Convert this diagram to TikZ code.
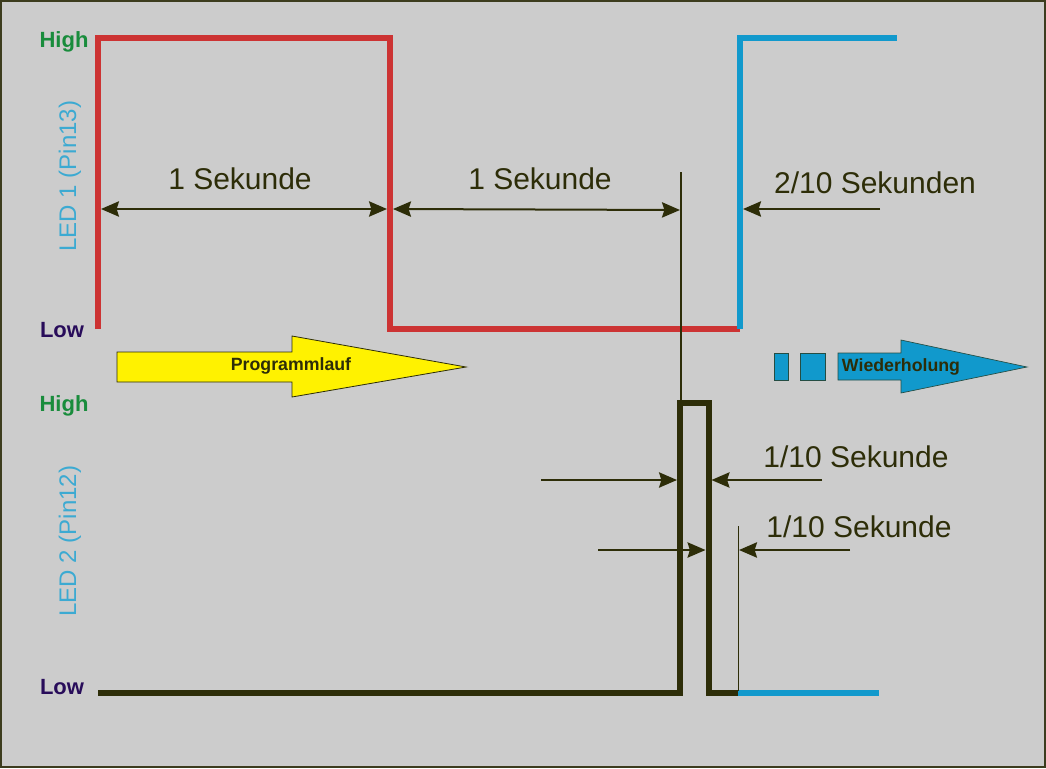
\documentclass[tikz,border=0pt]{standalone}
\usepackage{fontspec}
\setmainfont{Liberation Sans}
\usetikzlibrary{arrows.meta}
\definecolor{bg}{RGB}{204,204,204}
\definecolor{frame}{RGB}{60,60,30}
\definecolor{olive}{RGB}{45,45,8}
\definecolor{sigred}{RGB}{204,51,51}
\definecolor{sigblue}{RGB}{17,153,204}
\definecolor{hicol}{RGB}{25,140,60}
\definecolor{locol}{RGB}{40,12,90}
\definecolor{ledcol}{RGB}{60,170,210}
\tikzset{
  sig/.style={line width=4.5pt, line join=miter, line cap=butt},
  tipA/.tip={Stealth[length=13.5pt,width=11.5pt,inset=1.8pt]},
  dimarrow/.style={olive, line width=1.5pt, -tipA},
  dimboth/.style={olive, line width=1.5pt, tipA-tipA},
  dimline/.style={olive, line width=1.1pt},
  big/.style={inner sep=0pt, text=olive, font=\fontsize{22.5pt}{24pt}\selectfont},
  hilab/.style={inner sep=0pt, text=hicol, font=\fontsize{16.5pt}{18pt}\selectfont\bfseries},
  lolab/.style={inner sep=0pt, text=locol, font=\fontsize{16.5pt}{18pt}\selectfont\bfseries},
  ledlab/.style={inner sep=0pt, text=ledcol, rotate=90, font=\fontsize{18pt}{20pt}\selectfont},
  arrlab/.style={inner sep=0pt, text=olive, font=\fontsize{13.3pt}{15pt}\selectfont\bfseries},
}
\begin{document}
\begin{tikzpicture}[x=0.75pt,y=-0.75pt]
\useasboundingbox (0,0) rectangle (1046,768);
\fill[bg] (0,0) rectangle (1046,768);
\draw[frame, line width=1.5pt] (1,1) rectangle (1045,767);

% coordinates of LED 1
\coordinate (r0) at (98,329);
\coordinate (r1) at (98,38);
\coordinate (r2) at (390,38);
\coordinate (r3) at (390,329);
\coordinate (r4) at (740,329);
\coordinate (b1) at (740,38);
\coordinate (b2) at (897,38);
% LED 2
\coordinate (k0) at (98,693);
\coordinate (k1) at (680,693);
\coordinate (k2) at (680,403);
\coordinate (k3) at (708.5,403);
\coordinate (k4) at (708.5,693);
\coordinate (k5) at (738,693);
\coordinate (k6) at (879,693);

% signal lines
\draw[sig, sigred] (r0) -- (r1) -- (r2) -- (r3) -- (r4);
\draw[sig, sigblue] (r4) -- (b1) -- (b2);
\draw[sig, olive] (k0) -- (k1) -- (k2) -- (k3) -- (k4) -- (k5);
\draw[sig, sigblue] (k5) -- (k6);

% thin guide lines
\coordinate (g1t) at (681,172);
\coordinate (g1b) at (681,401);
\coordinate (g2t) at (738.5,526);
\coordinate (g2b) at (738.5,691);
\draw[dimline] (g1t) -- (g1b);
\draw[dimline] (g2t) -- (g2b);

% dimension arrows top
\coordinate (d1a) at (101,209);
\coordinate (d1b) at (387,209);
\coordinate (d2a) at (393,209);
\coordinate (d2b) at (680,210);
\coordinate (d3s) at (880,209);
\coordinate (d3e) at (743,209);
\draw[dimboth] (d1a) -- (d1b);
\draw[dimboth] (d2a) -- (d2b);
\draw[dimarrow] (d3s) -- (d3e);

% dimension arrows bottom
\coordinate (e1s) at (541,480);
\coordinate (e1e) at (677,480);
\coordinate (e2s) at (822,480);
\coordinate (e2e) at (711.5,480);
\coordinate (e3s) at (598,550);
\coordinate (e3e) at (705.5,550);
\coordinate (e4s) at (850,550);
\coordinate (e4e) at (739,550);
\draw[dimarrow] (e1s) -- (e1e);
\draw[dimarrow] (e2s) -- (e2e);
\draw[dimarrow] (e3s) -- (e3e);
\draw[dimarrow] (e4s) -- (e4e);

% texts
\node[big] (t1) at (240,179) {1 Sekunde};
\node[big] (t2) at (540,179) {1 Sekunde};
\node[big] (t3) at (875,183) {2/10 Sekunden};
\node[big] (t4) at (856,457) {1/10 Sekunde};
\node[big] (t5) at (859,527) {1/10 Sekunde};

\node[hilab] (h1) at (64,42) {High};
\node[lolab] (l1) at (62,330) {Low};
\node[hilab] (h2) at (64,406) {High};
\node[lolab] (l2) at (62,687) {Low};
\node[ledlab] (led1) at (70,176) {LED 1 (Pin13)};
\node[ledlab] (led2) at (70,541) {LED 2 (Pin12)};

% yellow arrow
\draw[fill=yellow, draw=olive, line width=0.6pt]
  (117,352) -- (292,352) -- (292,336) -- (466,367) -- (292,397) -- (292,382) -- (117,382) -- cycle;
\node[arrlab] (prog) at (291,366) {Programmlauf};

% blue arrow
\draw[fill=sigblue, draw=olive!70!sigblue, line width=0.5pt] (774,353) rectangle (788,380);
\draw[fill=sigblue, draw=olive!70!sigblue, line width=0.5pt] (800,353) rectangle (825,380);
\draw[fill=sigblue, draw=olive!70!sigblue, line width=0.5pt]
  (838,353) -- (901,353) -- (901,340) -- (1027,367) -- (901,393) -- (901,380) -- (838,380) -- cycle;
\node[arrlab] (wied) at (901,367) {Wiederholung};
\end{tikzpicture}
\end{document}
